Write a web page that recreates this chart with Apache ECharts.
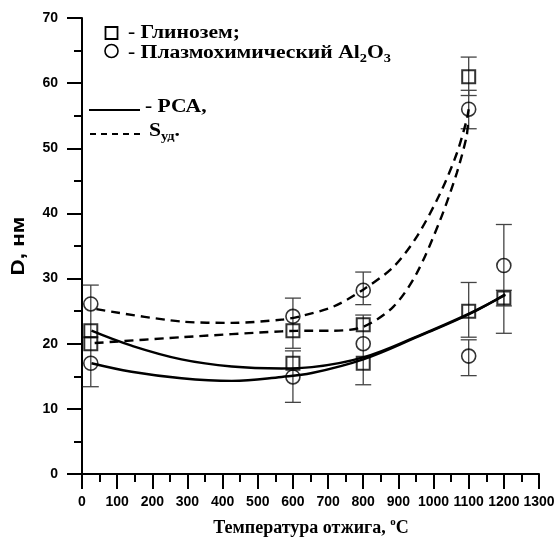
<!DOCTYPE html>
<html>
<head>
<meta charset="utf-8">
<script src="https://cdn.jsdelivr.net/npm/echarts@6/dist/echarts.min.js"></script>
<style>
  html, body { margin: 0; padding: 0; background: #fff; }
  #chart { width: 558px; height: 542px; }
</style>
</head>
<body>
<div id="chart"></div>
<script>
// ---------- data ----------
const temps = [25, 600, 800, 1100, 1200];

// Глинозем (squares)
const sqXrd = [22, 17, 17, 25, 27];          // РСА
const sqSsa = [20, 22, 22.9, 61];             // Sуд (first 4 temps)
// Плазмохимический Al2O3 (circles)
const ciXrd = [17, 14.9, 20, 18.1, 32];       // РСА
const ciSsa = [26.1, 24.2, 28.2, 56];         // Sуд (first 4 temps)

// fitted curves: [temperature, D]
const curveSqXrd = [[27,22.0],[141,19.7],[283,17.6],[426,16.5],[568,16.2],[654,16.4],[800,17.9],[952,21.1],[1104,24.7],[1204,27.5]];
const curveCiXrd = [[27,17.0],[141,15.7],[283,14.7],[426,14.3],[568,14.9],[654,15.5],[800,17.6],[952,21.0],[1104,24.6],[1204,27.6]];
const curveCiSsa = [[41,25.3],[284,23.4],[426,23.2],[568,23.7],[620,24.2],[715,25.7],[800,28.3],[886,31.8],[952,36.4],[1019,43.1],[1066,49.2],[1094,54.3],[1100,56]];
const curveSqSsa = [[36,20.1],[284,21.0],[568,21.9],[654,22.0],[715,22.0],[800,22.6],[886,25.7],[952,30.8],[1019,39.0],[1066,46.2],[1094,51.8],[1098,54]];

// error bars: temperature, low, high
const errX    = [25,   600,  600,  800,  800,  1100, 1100, 1100, 1100, 1200, 1200];
const errLow  = [13.4, 19.3, 11.0, 26.0, 13.7, 58.1, 53.0, 21.0, 15.1, 25.8, 21.6];
const errHigh = [29.0, 27.0, 18.9, 31.0, 24.4, 64.0, 58.9, 29.4, 20.6, 38.3, 28.2];

const xTicks = { min: 0, max: 1300, step: 100 };
const yTicks = { min: 0, max: 70, step: 10 };

// ---------- chart ----------
const SERIF = "'Liberation Serif','Times New Roman',serif";
const SANS = "'Liberation Sans',Arial,sans-serif";
const LEG_SCALE = 1.2;

const chart = echarts.init(document.getElementById('chart'), null, { renderer: 'canvas' });

const pairs = (xs, ys) => ys.map((v, i) => [xs[i], v]);
const errData = errX.map((x, i) => [x, errLow[i], errHigh[i]]);

const axisCommon = {
  axisLine: { show: true, onZero: false, lineStyle: { color: '#000', width: 2 } },
  axisTick: { show: true, inside: false, length: 15, lineStyle: { color: '#000', width: 2 } },
  minorTick: { show: true, splitNumber: 2, length: 8, lineStyle: { color: '#000', width: 2 } },
  splitLine: { show: false },
  minorSplitLine: { show: false }
};

const option = {
  animation: false,
  backgroundColor: '#fff',
  grid: { left: 82, top: 18, width: 457, height: 456, containLabel: false },
  xAxis: Object.assign({
    type: 'value', min: xTicks.min, max: xTicks.max, interval: xTicks.step,
    axisLabel: { color: '#000', fontFamily: SANS, fontWeight: 'bold', fontSize: 14, margin: 21,
      formatter: v => String(v) }
  }, axisCommon),
  yAxis: Object.assign({
    type: 'value', min: yTicks.min, max: yTicks.max, interval: yTicks.step,
    axisLabel: { color: '#000', fontFamily: SANS, fontWeight: 'bold', fontSize: 14, margin: 24,
      formatter: v => String(v) }
  }, axisCommon),
  series: [
    {
      type: 'custom', name: 'err', z: 2,
      data: errData,
      renderItem: function (params, api) {
        const x = api.value(0);
        const lo = api.coord([x, api.value(1)]);
        const hi = api.coord([x, api.value(2)]);
        const hw = 8;
        const st = { stroke: '#444', lineWidth: 1.3 };
        return {
          type: 'group',
          children: [
            { type: 'line', shape: { x1: lo[0], y1: lo[1], x2: hi[0], y2: hi[1] }, style: st },
            { type: 'line', shape: { x1: hi[0] - hw, y1: hi[1], x2: hi[0] + hw, y2: hi[1] }, style: st },
            { type: 'line', shape: { x1: lo[0] - hw, y1: lo[1], x2: lo[0] + hw, y2: lo[1] }, style: st }
          ]
        };
      }
    },
    { type: 'line', data: curveSqXrd, smooth: 0.4, showSymbol: false, z: 3,
      lineStyle: { color: '#000', width: 2.4, type: 'solid' } },
    { type: 'line', data: curveCiXrd, smooth: 0.4, showSymbol: false, z: 3,
      lineStyle: { color: '#000', width: 2.4, type: 'solid' } },
    { type: 'line', data: curveCiSsa, smooth: 0.3, showSymbol: false, z: 3,
      lineStyle: { color: '#000', width: 2.4, type: [9, 6] } },
    { type: 'line', data: curveSqSsa, smooth: 0.3, showSymbol: false, z: 3,
      lineStyle: { color: '#000', width: 2.4, type: [9, 6] } },
    { type: 'scatter', data: pairs(temps, sqXrd), symbol: 'rect', symbolSize: 13, z: 4,
      itemStyle: { color: 'rgba(0,0,0,0)', borderColor: '#000', borderWidth: 2 } },
    { type: 'scatter', data: pairs(temps, sqSsa), symbol: 'rect', symbolSize: 13, z: 4,
      itemStyle: { color: 'rgba(0,0,0,0)', borderColor: '#000', borderWidth: 2 } },
    { type: 'scatter', data: pairs(temps, ciXrd), symbol: 'circle', symbolSize: 14, z: 4,
      itemStyle: { color: 'rgba(0,0,0,0)', borderColor: '#000', borderWidth: 1.6 } },
    { type: 'scatter', data: pairs(temps, ciSsa), symbol: 'circle', symbolSize: 14, z: 4,
      itemStyle: { color: 'rgba(0,0,0,0)', borderColor: '#000', borderWidth: 1.6 } }
  ],
  graphic: [
    // legend
    { type: 'rect', shape: { x: 105.5, y: 27, width: 12, height: 12 },
      style: { fill: 'none', stroke: '#000', lineWidth: 1.8 } },
    { type: 'text', x: 128, y: 33, scaleX: LEG_SCALE,
      style: { text: '- Глинозем;', font: 'bold 18px ' + SERIF, fill: '#000', verticalAlign: 'middle' } },
    { type: 'circle', shape: { cx: 111.5, cy: 51, r: 6.5 },
      style: { fill: 'none', stroke: '#000', lineWidth: 1.6 } },
    { type: 'text', x: 128, y: 53, scaleX: LEG_SCALE,
      style: {
        text: '{a|- Плазмохимический Al}{s|2}{a|O}{s|3}',
        verticalAlign: 'middle',
        rich: {
          a: { font: 'bold 18px ' + SERIF, fill: '#000', lineHeight: 24 },
          s: { font: 'bold 12px ' + SERIF, fill: '#000', lineHeight: 12, verticalAlign: 'bottom' }
        }
      } },
    { type: 'line', shape: { x1: 89, y1: 110, x2: 140, y2: 110 },
      style: { stroke: '#000', lineWidth: 2 } },
    { type: 'text', x: 145, y: 107, scaleX: LEG_SCALE,
      style: { text: '- РСА,', font: 'bold 18px ' + SERIF, fill: '#000', verticalAlign: 'middle' } },
    { type: 'line', shape: { x1: 90, y1: 134, x2: 145, y2: 134 },
      style: { stroke: '#000', lineWidth: 2, lineDash: [6, 5] } },
    { type: 'text', x: 149, y: 131, scaleX: LEG_SCALE,
      style: {
        text: '{a|S}{s|уд}{a|.}',
        verticalAlign: 'middle',
        rich: {
          a: { font: 'bold 18px ' + SERIF, fill: '#000', lineHeight: 24 },
          s: { font: 'bold 12px ' + SERIF, fill: '#000', lineHeight: 12, verticalAlign: 'bottom' }
        }
      } },
    // axis titles
    { type: 'text', x: 19, y: 246, rotation: Math.PI / 2, scaleX: 1.25,
      style: { text: 'D, нм', font: 'bold 18px ' + SANS, fill: '#000', align: 'center', verticalAlign: 'middle' } },
    { type: 'text', x: 311, y: 528,
      style: {
        text: '{a|Температура отжига, }{p|o}{a|C}',
        align: 'center', verticalAlign: 'middle',
        rich: {
          a: { font: 'bold 18px ' + SERIF, fill: '#000', lineHeight: 22 },
          p: { font: 'bold 11px ' + SERIF, fill: '#000', lineHeight: 11, verticalAlign: 'top' }
        }
      } }
  ]
};

chart.setOption(option);
</script>
</body>
</html>
